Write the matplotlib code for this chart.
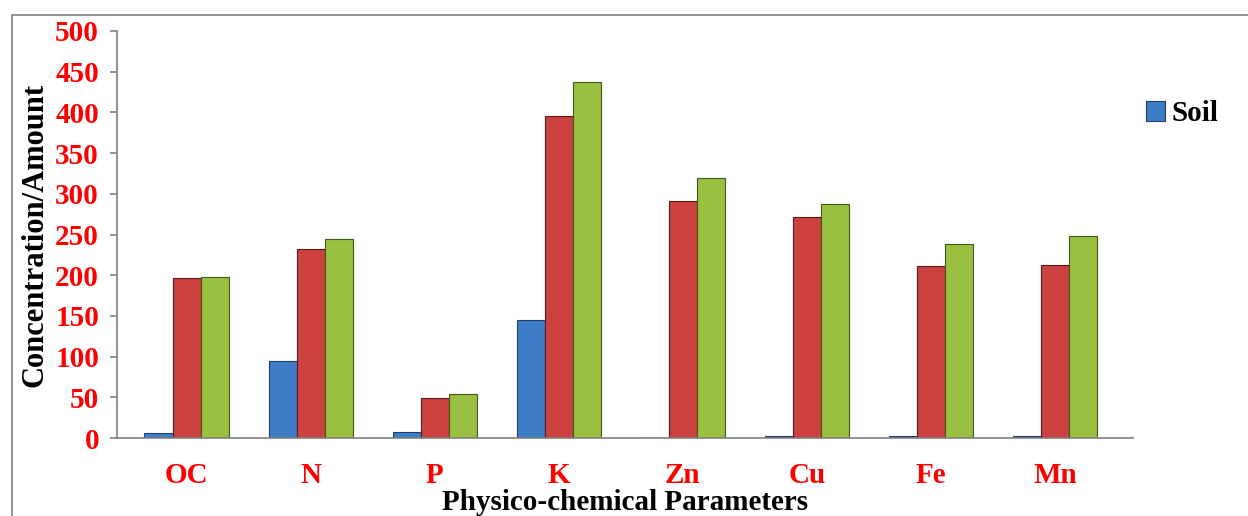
import numpy as np
import matplotlib.pyplot as plt
from matplotlib.patches import Rectangle

# categories and series values
params = ['OC', 'N', 'P', 'K', 'Zn', 'Cu', 'Fe', 'Mn']
soil = [6, 95, 7, 145, 0.5, 3, 2, 2]
series2 = [196, 232, 49, 395, 291, 272, 211, 212]
series3 = [198, 245, 54, 437, 319, 288, 238, 248]
yticks = [0, 50, 100, 150, 200, 250, 300, 350, 400, 450, 500]

plt.rcParams['font.family'] = ['Liberation Serif', 'DejaVu Serif']
plt.rcParams['font.weight'] = 'bold'

fig = plt.figure(figsize=(12.48, 5.16), dpi=100)
ax = fig.add_axes([0.0938, 0.151, 0.8143, 0.789])

x = np.arange(len(params))
w = 0.226
ax.bar(x - w, soil, w, color='#3f7cc8', edgecolor='#1f3f6a', linewidth=0.8, label='Soil')
ax.bar(x, series2, w, color='#cc4040', edgecolor='#5a1a1a', linewidth=0.8)
ax.bar(x + w, series3, w, color='#99c040', edgecolor='#3f5a1a', linewidth=0.8)

ax.set_ylim(0, 500)
ax.set_xlim(-0.56, 7.63)
ax.set_yticks(yticks)
ax.set_yticklabels([str(v) for v in yticks], color='red', fontsize=21, fontweight='bold')
ax.set_xticks(x)
ax.set_xticklabels(params, color='red', fontsize=21, fontweight='bold')
ax.tick_params(axis='y', length=5, width=1.2, color='#808080', pad=8)
ax.tick_params(axis='x', length=0, pad=17)

for s in ['top', 'right']:
    ax.spines[s].set_visible(False)
for s in ['left', 'bottom']:
    ax.spines[s].set_color('#808080')
    ax.spines[s].set_linewidth(1.2)

ax.set_ylabel('Concentration/Amount', fontsize=22, fontweight='bold', labelpad=4)
ax.set_xlabel('Physico-chemical Parameters', fontsize=21, fontweight='bold', labelpad=0)

fig.legend(loc='center left', bbox_to_anchor=(0.897, 0.78), frameon=False,
           prop={'size': 21, 'weight': 'bold'}, handlelength=0.65, handleheight=0.65,
           handletextpad=0.25)

# chart border
fig.patches.append(Rectangle((12 / 1248, -0.1), 1.2, 1.1 - 15 / 516, transform=fig.transFigure,
                             fill=False, edgecolor='#808080', linewidth=1.2))

fig.savefig('out.png', dpi=100)
